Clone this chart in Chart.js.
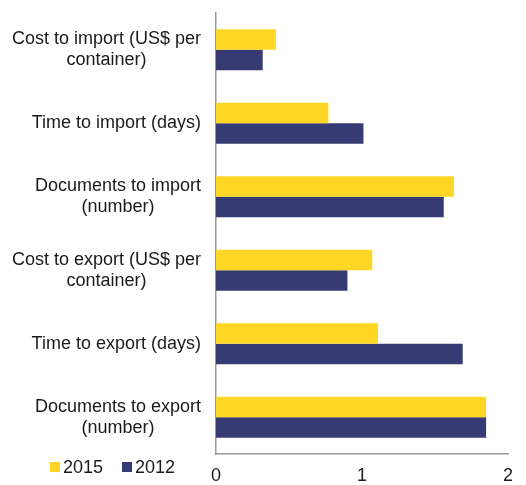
<!DOCTYPE html>
<html>
<head>
<meta charset="utf-8">
<script src="https://cdn.jsdelivr.net/npm/chart.js@4.4.1/dist/chart.umd.min.js"></script>
<style>
  html, body { margin: 0; padding: 0; background: #fff; }
  #wrap { width: 526px; height: 485px; position: relative; }
</style>
</head>
<body>
<div id="wrap"><canvas id="c" width="526" height="485"></canvas></div>
<script>
const categories = [
  ["Cost to import (US$ per", "container)"],
  ["Time to import (days)"],
  ["Documents to import", "(number)"],
  ["Cost to export (US$ per", "container)"],
  ["Time to export (days)"],
  ["Documents to export", "(number)"]
];
const seriesNames = ["2015", "2012"];
const values2015 = [0.41, 0.77, 1.63, 1.07, 1.11, 1.85];
const values2012 = [0.32, 1.01, 1.56, 0.90, 1.69, 1.85];
const xTicks = [0, 1, 2];

const colors = ["#FFD623", "#363C73"];
const FONT = "Liberation Sans, Arial, sans-serif";

const yLabelPlugin = {
  id: 'yLabels',
  afterDraw(chart) {
    const ctx = chart.ctx;
    const ys = chart.scales.y;
    ctx.save();
    ctx.font = "18px " + FONT;
    ctx.fillStyle = "#1a1a1a";
    ctx.textAlign = "center";
    ctx.textBaseline = "middle";
    const lh = 21;
    categories.forEach((lines, i) => {
      const y = ys.getPixelForValue(i);
      let maxW = 0;
      lines.forEach(l => { maxW = Math.max(maxW, ctx.measureText(l).width); });
      const cx = ys.right - 15 - maxW / 2;
      lines.forEach((l, j) => {
        ctx.fillText(l, cx, y + (j - (lines.length - 1) / 2) * lh);
      });
    });
    // legend
    const ds = chart.data.datasets;
    let x = 50;
    const ly = 467;
    ctx.textAlign = "left";
    ds.forEach((d, k) => {
      ctx.fillStyle = d.backgroundColor;
      ctx.fillRect(x, ly - 5, 10, 10);
      ctx.fillStyle = "#1a1a1a";
      ctx.fillText(d.label, x + 13, ly + 1);
      x += 72;
    });
    ctx.restore();
  }
};

new Chart(document.getElementById('c'), {
  type: 'bar',
  data: {
    labels: categories,
    datasets: [
      { label: seriesNames[0], data: values2015, backgroundColor: colors[0] },
      { label: seriesNames[1], data: values2012, backgroundColor: colors[1] }
    ]
  },
  options: {
    indexAxis: 'y',
    responsive: false,
    animation: false,
    devicePixelRatio: 1,
    categoryPercentage: 0.56,
    barPercentage: 1.0,
    layout: { padding: { top: 13, right: 18, left: 0, bottom: 0 } },
    plugins: { legend: { display: false }, tooltip: { enabled: false } },
    scales: {
      x: {
        min: 0, max: 2,
        afterBuildTicks(scale) { scale.ticks = xTicks.map(v => ({ value: v })); },
        grid: { display: false, drawTicks: false },
        border: { display: true, color: '#9a9a9a', width: 1.5 },
        ticks: { font: { size: 18, family: FONT }, color: '#1a1a1a', padding: 11 },
        afterFit(scale) { scale.height = 31; }
      },
      y: {
        grid: { display: false, drawTicks: false },
        border: { display: true, color: '#9a9a9a', width: 1.5 },
        ticks: { display: false },
        afterFit(scale) { scale.width = 216; }
      }
    }
  },
  plugins: [yLabelPlugin]
});
</script>
</body>
</html>
